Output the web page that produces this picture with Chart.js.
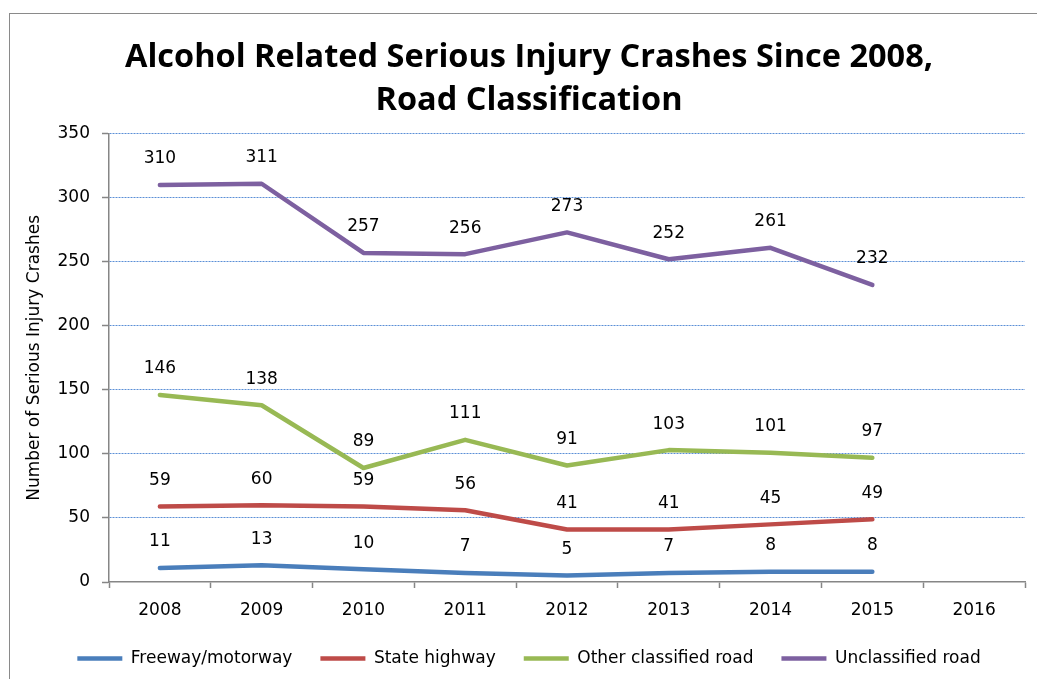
<!DOCTYPE html>
<html>
<head>
<meta charset="utf-8">
<script src="https://cdn.jsdelivr.net/npm/chart.js@4/dist/chart.umd.min.js"></script>
<style>
  html, body { margin: 0; padding: 0; background: #fff; overflow: hidden; }
  #wrap { position: relative; width: 1037px; height: 679px; }
  #frame { position: absolute; left: 9px; top: 13px; width: 1100px; height: 800px; border: 1.5px solid #8a8a8a; box-sizing: border-box; }
  canvas { position: absolute; left: 0; top: 0; }
</style>
</head>
<body>
<div id="wrap">
  <div id="frame"></div>
  <canvas id="c" width="1037" height="679"></canvas>
</div>
<script>
const categories = ['2008','2009','2010','2011','2012','2013','2014','2015','2016'];
const freeway = [11, 13, 10, 7, 5, 7, 8, 8];
const stateHighway = [59, 60, 59, 56, 41, 41, 45, 49];
const otherClassified = [146, 138, 89, 111, 91, 103, 101, 97];
const unclassified = [310, 311, 257, 256, 273, 252, 261, 232];
const seriesNames = ['Freeway/motorway', 'State highway', 'Other classified road', 'Unclassified road'];
const seriesColors = ['#4A7EBB', '#BE4B48', '#98B954', '#7D60A0'];
const yTicks = [0, 50, 100, 150, 200, 250, 300, 350];

const FONT = "'DejaVu Sans', sans-serif";

const dataLabels = {
  id: 'dataLabels',
  afterDatasetsDraw(chart) {
    const ctx = chart.ctx;
    ctx.save();
    ctx.font = '17px ' + FONT;
    ctx.fillStyle = '#000';
    ctx.textAlign = 'center';
    ctx.textBaseline = 'middle';
    chart.data.datasets.forEach((ds, i) => {
      const meta = chart.getDatasetMeta(i);
      meta.data.forEach((pt, j) => {
        const v = ds.data[j];
        if (v === null || v === undefined) return;
        ctx.fillText(String(v), pt.x, pt.y - 26);
      });
    });
    ctx.restore();
  }
};

const seriesData = [freeway, stateHighway, otherClassified, unclassified];

new Chart(document.getElementById('c'), {
  type: 'line',
  data: {
    labels: categories,
    datasets: seriesData.map((d, i) => ({
      label: seriesNames[i],
      data: d,
      borderColor: seriesColors[i],
      backgroundColor: seriesColors[i],
      borderWidth: 4.5,
      borderCapStyle: 'round',
      borderJoinStyle: 'round',
      pointRadius: 0,
      pointHoverRadius: 0,
      tension: 0,
      fill: false
    }))
  },
  options: {
    responsive: false,
    animation: false,
    events: [],
    layout: { padding: { left: 9, right: -12, top: 0, bottom: 2 } },
    plugins: {
      title: {
        display: true,
        text: ['Alcohol Related Serious Injury Crashes Since 2008,', 'Road Classification'],
        color: '#000',
        font: { family: "'Open Sans', sans-serif", size: 32.5, weight: 'bold', lineHeight: 1.32 },
        padding: { top: 36, bottom: 12 }
      },
      legend: {
        position: 'bottom',
        labels: {
          usePointStyle: true,
          pointStyle: 'line',
          pointStyleWidth: 45,
          boxHeight: 17,
          padding: 28,
          color: '#000',
          font: { family: FONT, size: 17 }
        }
      },
      tooltip: { enabled: false }
    },
    scales: {
      x: {
        type: 'category',
        offset: true,
        grid: { offset: true, drawOnChartArea: false, drawTicks: true, tickLength: 6, tickColor: '#868686', tickWidth: 1.5 },
        border: { display: true, color: '#868686', width: 1.5 },
        ticks: { color: '#000', font: { family: FONT, size: 17 }, padding: 12, maxRotation: 0 },
        afterFit(s) { s.height = 40; }
      },
      y: {
        min: 0,
        max: 350,
        afterBuildTicks(s) { s.ticks = yTicks.map(v => ({ value: v })); },
        grid: {
          color: (c) => (c.tick && c.tick.value === 0 ? 'rgba(0,0,0,0)' : '#5B8FD6'),
          lineWidth: 1, drawTicks: true, tickLength: 7, tickColor: '#868686', tickWidth: 1.5, tickBorderDash: []
        },
        border: { display: true, color: '#868686', width: 1.5, dash: [2, 1] },
        ticks: { color: '#000', font: { family: FONT, size: 17 }, padding: 12 },
        title: {
          display: true,
          text: 'Number of Serious Injury Crashes',
          color: '#000',
          font: { family: FONT, size: 17 },
          padding: { top: 15, bottom: 0 }
        },
        afterFit(s) { s.width = 100; }
      },
      yRight: {
        type: 'linear',
        position: 'right',
        display: true,
        min: 0,
        max: 350,
        grid: { display: false },
        border: { display: false },
        ticks: { display: false },
        afterFit(s) { s.width = 24; }
      }
    }
  },
  plugins: [dataLabels]
});
</script>
</body>
</html>
